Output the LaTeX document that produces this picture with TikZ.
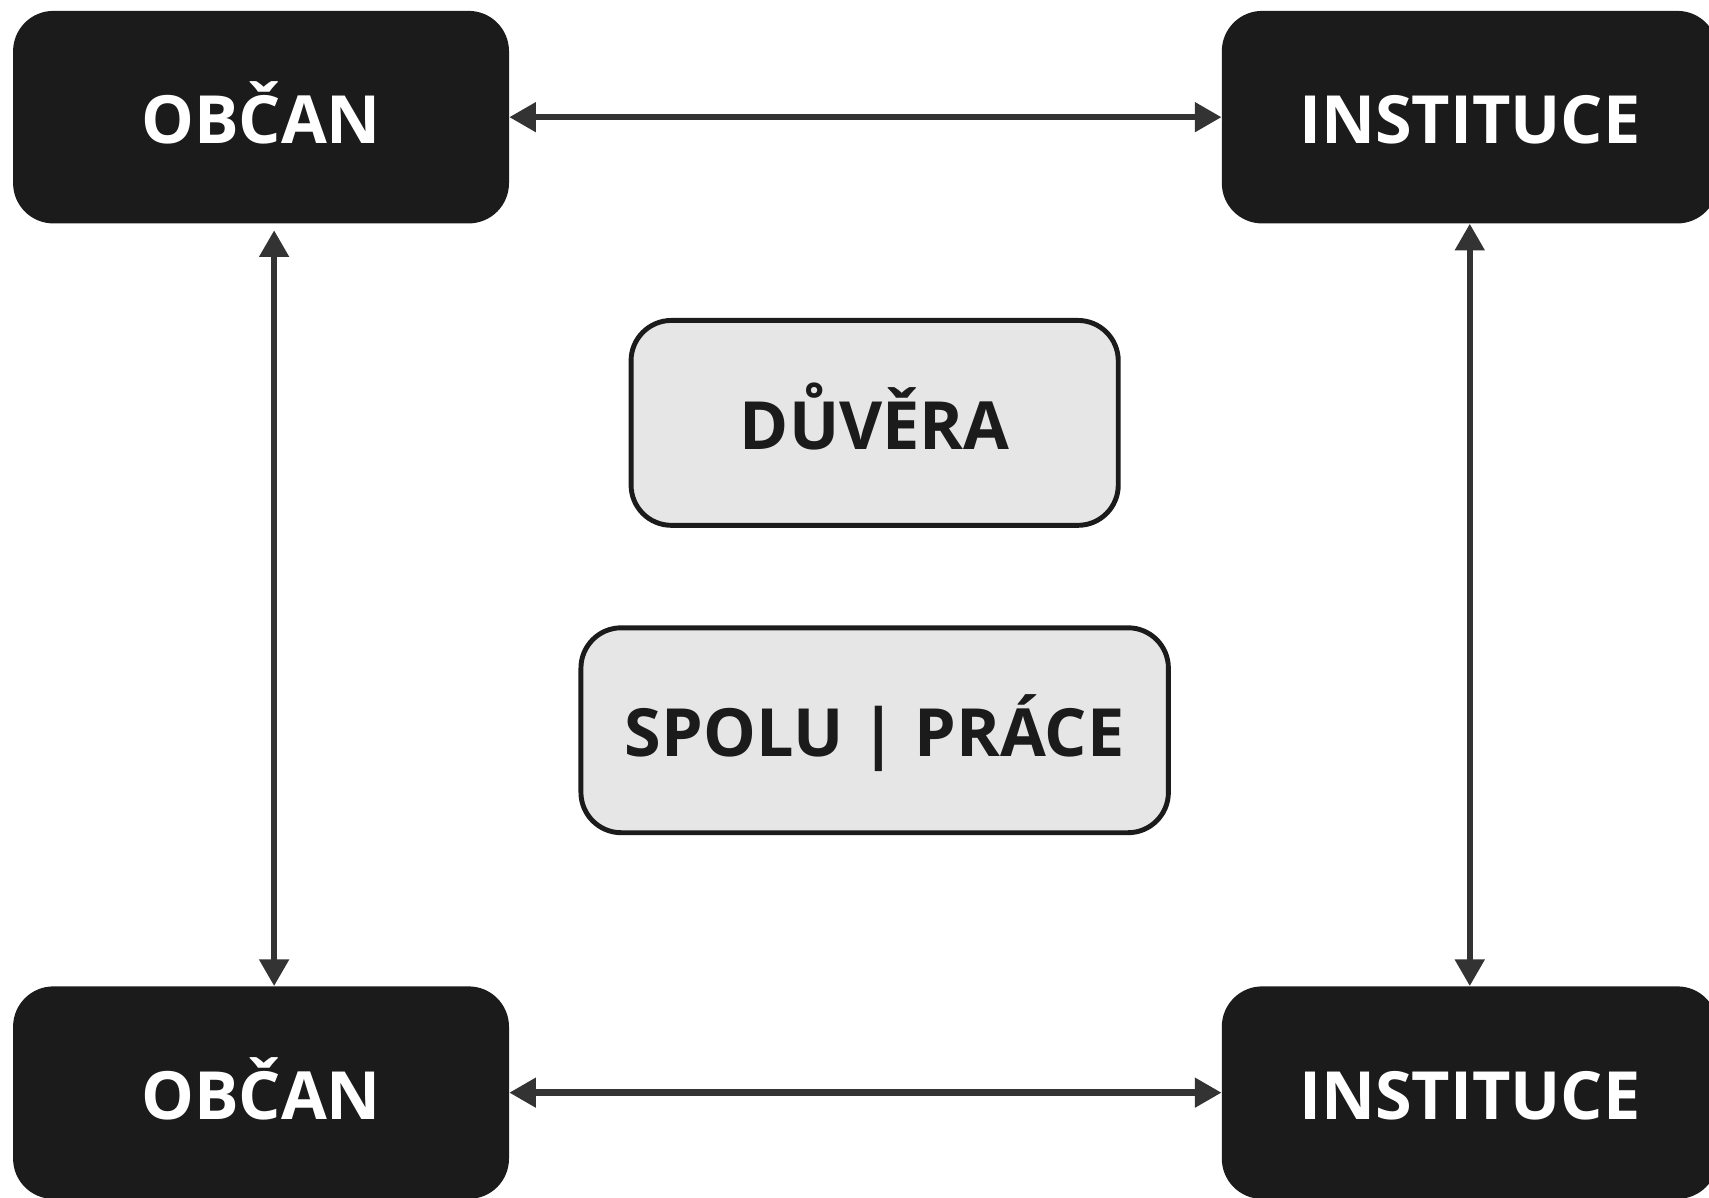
\documentclass[tikz,border=0pt]{standalone}
\usepackage{fontspec}
\setmainfont{Open Sans}[BoldFont={Open Sans Bold}]
\usetikzlibrary{arrows.meta,calc}
\definecolor{boxblack}{HTML}{1B1B1B}
\definecolor{arrowgray}{HTML}{333333}
\definecolor{boxgray}{HTML}{E6E6E6}
\tikzset{
  boxtext/.style={text height=49pt, text depth=0pt, inner sep=0pt,
    font=\fontsize{61}{72}\selectfont\bfseries},
  darkbox/.style={boxtext, rectangle, rounded corners=37pt, fill=boxblack, draw=none,
    minimum width=455pt, minimum height=195pt, text=white},
  lightbox/.style={boxtext, rectangle, rounded corners=37pt, fill=boxgray, draw=boxblack,
    line width=4.5pt, minimum height=188pt, text=boxblack},
  link/.style={draw=arrowgray, line width=6pt,
    {Triangle[length=24.5pt,width=26pt]}-{Triangle[length=24.5pt,width=26pt]}},
}
\begin{document}
\begin{tikzpicture}[x=1pt,y=-1pt]
\useasboundingbox (0,0) rectangle (1568,1099);
\clip (0,0) rectangle (1568,1099);
\node[darkbox] (o1) at (239.5,107.5) {OBČAN};
\node[darkbox] (i1) at (1348.5,107.5) {INSTITUCE};
\node[darkbox] (o2) at (239.5,1002.5) {OBČAN};
\node[darkbox] (i2) at (1348.5,1002.5) {INSTITUCE};
\node[lightbox, minimum width=447pt] (d) at (802.5,388) {DŮVĚRA};
\node[lightbox, minimum width=539pt] (s) at (802.5,670) {SPOLU | PRÁCE};
\draw[link] (o1.east) -- (i1.west);
\draw[link] (o2.east) -- (i2.west);
\draw[link] ($(o1.south)+(12,6)$) -- ($(o2.north)+(12,0)$);
\draw[link] (i1.south) -- (i2.north);
\end{tikzpicture}
\end{document}
